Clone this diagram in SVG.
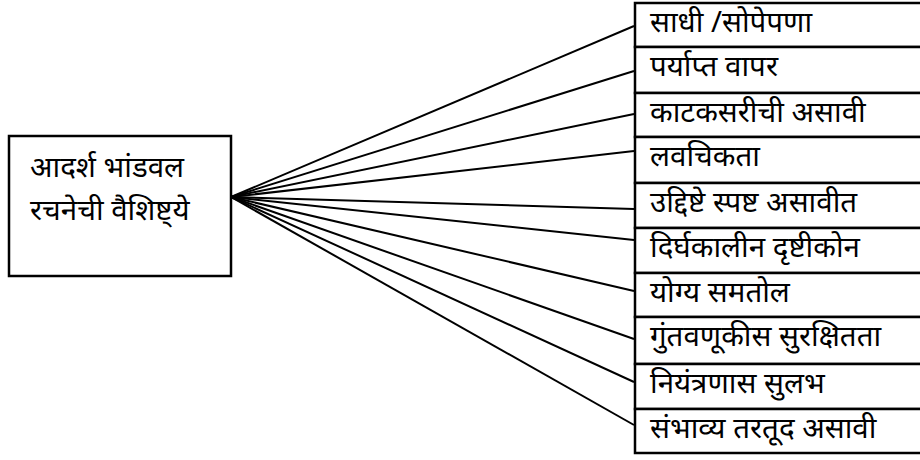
<svg xmlns="http://www.w3.org/2000/svg" width="920" height="460" viewBox="0 0 920 460">
<style>
.box{fill:#fff;stroke:#000;stroke-width:2.5}
.t{font-family:"Noto Sans","Noto Sans Devanagari","Lohit Devanagari",sans-serif;font-size:29.5px;fill:#000}
.c line{stroke:#000;stroke-width:2}
</style>
<rect width="920" height="460" fill="#fff"/>
<g class="c" id="connectors">
<line x1="231" y1="197" x2="634" y2="26"/>
<line x1="231" y1="197" x2="634" y2="71"/>
<line x1="231" y1="197" x2="634" y2="114"/>
<line x1="231" y1="197" x2="634" y2="151"/>
<line x1="231" y1="197" x2="634" y2="209"/>
<line x1="231" y1="197" x2="634" y2="240"/>
<line x1="231" y1="197" x2="634" y2="291"/>
<line x1="231" y1="197" x2="634" y2="339"/>
<line x1="231" y1="197" x2="634" y2="382"/>
<line x1="231" y1="197" x2="634" y2="425"/>
</g>
<g id="root"><rect class="box" x="9" y="136" width="222" height="140"/>
<text class="t" x="30" y="177">आदर्श भांडवल</text>
<text class="t" x="30" y="220">रचनेची वैशिष्ट्ये</text></g>
<g id="n1"><rect class="box" x="635" y="3" width="300" height="44"/><text class="t" x="650" y="32">साधी /सोपेपणा</text></g>
<g id="n2"><rect class="box" x="635" y="47" width="300" height="46"/><text class="t" x="650" y="76">पर्याप्त वापर</text></g>
<g id="n3"><rect class="box" x="635" y="93" width="300" height="44"/><text class="t" x="650" y="122">काटकसरीची असावी</text></g>
<g id="n4"><rect class="box" x="635" y="137" width="300" height="46"/><text class="t" x="650" y="166">लवचिकता</text></g>
<g id="n5"><rect class="box" x="635" y="183" width="300" height="45"/><text class="t" x="650" y="212">उद्दिष्टे स्पष्ट असावीत</text></g>
<g id="n6"><rect class="box" x="635" y="228" width="300" height="45"/><text class="t" x="650" y="257">दिर्घकालीन दृष्टीकोन</text></g>
<g id="n7"><rect class="box" x="635" y="273" width="300" height="44"/><text class="t" x="650" y="302">योग्य समतोल</text></g>
<g id="n8"><rect class="box" x="635" y="317" width="300" height="47"/><text class="t" x="650" y="346">गुंतवणूकीस सुरक्षितता</text></g>
<g id="n9"><rect class="box" x="635" y="364" width="300" height="45"/><text class="t" x="650" y="393">नियंत्रणास सुलभ</text></g>
<g id="n10"><rect class="box" x="635" y="409" width="300" height="44"/><text class="t" x="650" y="438">संभाव्य तरतूद असावी</text></g>
</svg>
